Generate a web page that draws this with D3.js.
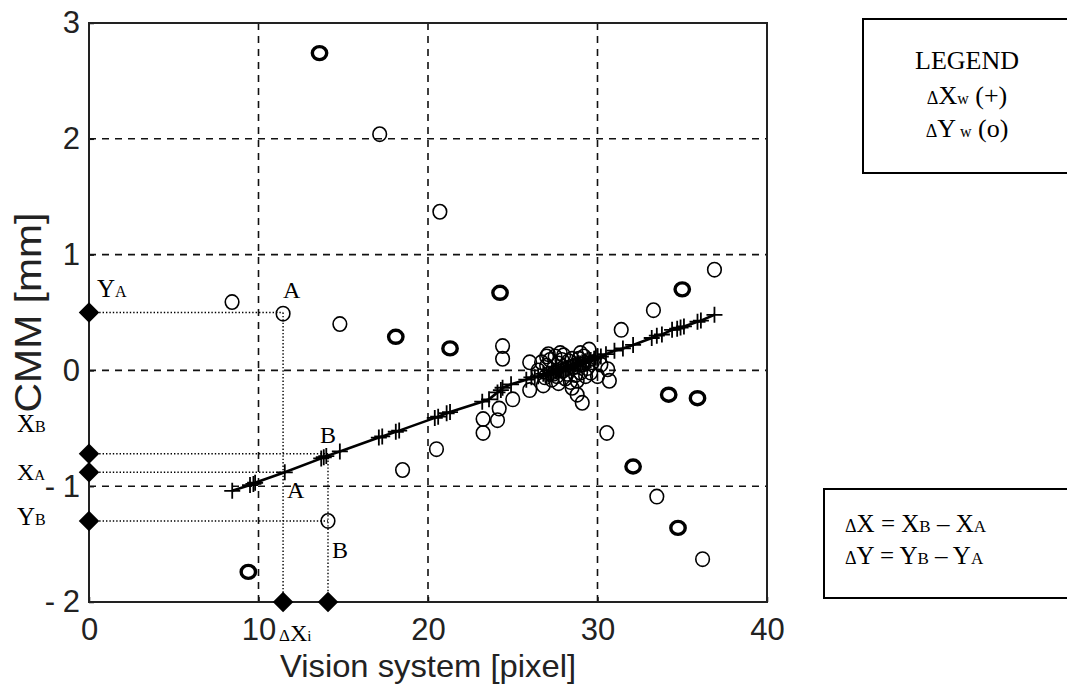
<!DOCTYPE html>
<html>
<head>
<meta charset="utf-8">
<script src="https://cdn.jsdelivr.net/npm/d3@7"></script>
<style>
  body { margin: 0; background: #fff; }
  svg { display: block; }
</style>
</head>
<body>
<svg id="chart" width="1067" height="684"></svg>
<script>

// *** Data ***

var xTicks = [0, 10, 20, 30, 40];
var yTicks = [-2, -1, 0, 1, 2, 3];

// delta Xw (+), lies on the fitted line
var plusX = [8.45, 9.5, 9.7, 9.8, 11.55, 13.7, 13.85, 14.0, 14.8, 17.1, 17.3, 18.1, 18.3, 20.4, 20.6, 21.1, 21.3,
             23.2, 23.6, 24.1, 24.3, 24.4, 24.9, 25.8, 26.1, 26.3, 26.5, 26.8, 27.0, 27.1, 27.2, 27.3, 27.4, 27.5,
             27.6, 27.7, 27.8, 27.9, 28.0, 28.1, 28.2, 28.3, 28.4, 28.5, 28.6, 28.7, 28.8, 28.9, 29.0, 29.1, 29.2,
             29.3, 29.5, 29.6, 29.8, 29.9, 30.0, 30.2, 30.5, 31.0, 31.5, 32.1, 33.2, 33.5, 33.8, 34.4, 34.7, 34.9,
             35.1, 35.9, 36.1, 36.9];
var plusY = [-1.04, -0.99, -0.98, -0.97, -0.88, -0.76, -0.75, -0.74, -0.70, -0.58, -0.57, -0.53, -0.52, -0.41, -0.40, -0.37, -0.36,
             -0.27, -0.25, -0.19, -0.17, -0.15, -0.12, -0.08, -0.06, -0.06, -0.05, -0.03, -0.04, -0.03, -0.03, -0.02, -0.02, -0.01,
             -0.01, 0.00, 0.00, 0.01, 0.01, 0.02, 0.02, 0.03, 0.03, 0.04, 0.04, 0.05, 0.05, 0.06, 0.06, 0.07, 0.07,
             0.08, 0.09, 0.09, 0.10, 0.11, 0.12, 0.12, 0.14, 0.17, 0.19, 0.22, 0.28, 0.30, 0.31, 0.35, 0.36, 0.37,
             0.38, 0.42, 0.43, 0.48];

// delta Yw (o)
var circleX = [17.15, 20.7, 8.44, 11.45, 14.8, 24.4, 24.4, 36.9, 33.3, 31.4, 30.55, 23.25, 23.25, 24.1, 25.0, 26.0,
               26.8, 26.0, 27.1, 28.5, 28.8, 29.1, 29.3, 30.7, 30.6, 29.5, 33.5, 36.2, 20.5, 18.5, 14.1, 27.0,
               27.4, 27.7, 28.0, 28.3, 28.1, 27.5, 28.6, 28.9, 29.0, 27.3, 28.4, 29.2, 27.8, 24.2,
               26.5, 26.9, 27.2, 27.6, 27.9, 28.2, 28.5, 28.7, 29.1, 29.4, 29.7, 27.0, 28.0, 29.0, 26.7, 28.8,
               27.7, 29.6, 30.2, 30.0];
var circleY = [2.04, 1.37, 0.59, 0.49, 0.40, 0.21, 0.10, 0.87, 0.52, 0.35, -0.54, -0.42, -0.54, -0.43, -0.25, -0.17,
               -0.13, 0.07, 0.14, -0.15, -0.21, -0.28, -0.05, -0.09, 0.01, 0.18, -1.09, -1.63, -0.68, -0.86, -1.30, 0.04,
               -0.03, 0.06, 0.00, 0.08, -0.07, 0.12, 0.03, 0.10, -0.02, -0.08, -0.10, 0.12, 0.15, -0.33,
               0.00, -0.06, 0.09, -0.05, 0.09, -0.03, 0.10, -0.04, 0.05, 0.02, 0.07, 0.12, 0.13, 0.15, 0.07, -0.09,
               -0.11, -0.02, 0.05, -0.05];
// repeated (bold) circles
var boldX = [13.6, 18.1, 21.3, 24.25, 35.0, 34.2, 35.9, 32.1, 34.75, 9.4];
var boldY = [2.74, 0.29, 0.19, 0.67, 0.70, -0.21, -0.24, -0.83, -1.36, -1.74];

// construction of points A and B
var axisMarkY = [0.5, -0.72, -0.88, -1.3];      // YA, XB, XA, YB
var axisMarkX = [11.45, 14.1];                  // A, B on the x axis
var pointA = {x: 11.45, yw: 0.5, xw: -0.88};
var pointB = {x: 14.1, yw: -1.3, xw: -0.72};

// *** Chart setup ***

var svg = d3.select("#chart");
var serif = "'Liberation Serif', 'Times New Roman', serif";
var sans = "'Liberation Sans', Arial, Helvetica, sans-serif";

var x = d3.scaleLinear().domain([0, 40]).range([89, 767]);
var y = d3.scaleLinear().domain([-2, 3]).range([602, 23]);

var plusData = plusX.map((v, i) => ({x: v, y: plusY[i]}));
var circleData = circleX.map((v, i) => ({x: v, y: circleY[i]}));
var boldData = boldX.map((v, i) => ({x: v, y: boldY[i]}));

// grid
var grid = svg.append("g")
    .attr("stroke", "#111")
    .attr("stroke-width", 1.6)
    .attr("stroke-dasharray", "7,6");

grid.selectAll(".vgrid").data(xTicks.slice(1, -1)).enter().append("line")
    .attr("x1", d => x(d)).attr("x2", d => x(d))
    .attr("y1", y(3)).attr("y2", y(-2));

grid.selectAll(".hgrid").data(yTicks.slice(1, -1)).enter().append("line")
    .attr("x1", x(0)).attr("x2", x(40))
    .attr("y1", d => y(d)).attr("y2", d => y(d));

// axes (small inward ticks + labels)
var xAxisG = svg.append("g")
    .attr("transform", "translate(0," + y(-2) + ")")
    .call(d3.axisBottom(x).tickValues(xTicks).tickSize(-5).tickPadding(16));

var yAxisG = svg.append("g")
    .attr("transform", "translate(" + x(0) + ",0)")
    .call(d3.axisLeft(y).tickValues(yTicks).tickSize(-5).tickPadding(9)
        .tickFormat(d => d < 0 ? "-\u2005" + (-d) : "" + d));

[xAxisG, yAxisG].forEach(function (g) {
    g.select(".domain").remove();
    g.selectAll(".tick line").attr("stroke", "#111").attr("stroke-width", 1.5);
    g.selectAll(".tick text")
        .attr("font-family", sans)
        .attr("font-size", 31)
        .attr("fill", "#222");
});

// frame
svg.append("rect")
    .attr("x", x(0)).attr("y", y(3))
    .attr("width", x(40) - x(0)).attr("height", y(-2) - y(3))
    .attr("fill", "none")
    .attr("stroke", "#222")
    .attr("stroke-width", 2);

// axis titles
svg.append("text")
    .attr("x", (x(0) + x(40)) / 2)
    .attr("y", 677)
    .attr("text-anchor", "middle")
    .attr("font-family", sans)
    .attr("font-size", 32)
    .attr("textLength", 296)
    .attr("lengthAdjust", "spacingAndGlyphs")
    .attr("fill", "#222")
    .text("Vision system [pixel]");

svg.append("text")
    .attr("transform", "translate(41," + (y(3) + y(-2)) / 2 + ") rotate(-90)")
    .attr("text-anchor", "middle")
    .attr("font-family", sans)
    .attr("font-size", 37)
    .attr("textLength", 200)
    .attr("lengthAdjust", "spacingAndGlyphs")
    .attr("fill", "#222")
    .text("CMM [mm]");

// *** Construction lines for A and B ***

var dotted = svg.append("g")
    .attr("stroke", "#000")
    .attr("stroke-width", 1.4)
    .attr("stroke-dasharray", "1.4,2");

var guideLines = [
    [0, pointA.yw, pointA.x, pointA.yw],
    [0, pointA.xw, pointA.x, pointA.xw],
    [0, pointB.xw, pointB.x, pointB.xw],
    [0, pointB.yw, pointB.x, pointB.yw],
    [pointA.x, pointA.yw, pointA.x, -2],
    [pointB.x, pointB.xw, pointB.x, -2]
];
dotted.selectAll("line").data(guideLines).enter().append("line")
    .attr("x1", d => x(d[0])).attr("y1", d => y(d[1]))
    .attr("x2", d => x(d[2])).attr("y2", d => y(d[3]));

// *** Data marks ***

var fitLine = d3.line().x(d => x(d.x)).y(d => y(d.y));
svg.append("path")
    .datum(plusData.slice().sort((a, b) => a.x - b.x))
    .attr("fill", "none")
    .attr("stroke", "#000")
    .attr("stroke-width", 2.6)
    .attr("d", fitLine);

svg.append("g").selectAll("path").data(plusData).enter().append("path")
    .attr("transform", d => "translate(" + x(d.x) + "," + y(d.y) + ")")
    .attr("d", "M-8,0H8M0,-8V8")
    .attr("stroke", "#000")
    .attr("stroke-width", 1.8);

svg.append("g").selectAll("ellipse").data(circleData).enter().append("ellipse")
    .attr("cx", d => x(d.x)).attr("cy", d => y(d.y))
    .attr("rx", 6.8).attr("ry", 7.2)
    .attr("fill", "none")
    .attr("stroke", "#000")
    .attr("stroke-width", 1.6);

svg.append("g").selectAll("ellipse").data(boldData).enter().append("ellipse")
    .attr("cx", d => x(d.x)).attr("cy", d => y(d.y))
    .attr("rx", 7.2).attr("ry", 6.5)
    .attr("fill", "none")
    .attr("stroke", "#000")
    .attr("stroke-width", 3.4);

// diamonds on the axes
var diamond = d3.symbol(d3.symbolSquare, 210);
svg.append("g").selectAll("path").data(axisMarkY).enter().append("path")
    .attr("transform", d => "translate(" + x(0) + "," + y(d) + ") rotate(45)")
    .attr("d", diamond);
svg.append("g").selectAll("path").data(axisMarkX).enter().append("path")
    .attr("transform", d => "translate(" + x(d) + "," + y(-2) + ") rotate(45)")
    .attr("d", diamond);

// *** Annotation text ***

function richText(parent, px, py, parts, anchor) {
    var t = parent.append("text")
        .attr("x", px).attr("y", py)
        .attr("text-anchor", anchor || "start")
        .attr("font-family", serif)
        .attr("fill", "#000");
    parts.forEach(function (p) {
        t.append("tspan").attr("font-size", p[1]).text(p[0]);
    });
    return t;
}

var big = 25, small = 16;
richText(svg, 97, 297, [["Y", big], ["A", small]]);
richText(svg, 17, 432, [["X", big], ["B", small]]);
richText(svg, 17, 480, [["X", 24], ["A", 15]]);
richText(svg, 17, 525, [["Y", big], ["B", small]]);
richText(svg, 283, 298, [["A", 24]]);
richText(svg, 320, 443, [["B", 24]]);
richText(svg, 287, 498, [["A", 24]]);
richText(svg, 332, 558, [["B", 24]]);
richText(svg, 279, 641, [["\u0394", 17], ["X", 24], ["i", 15]]);

// legend box
svg.append("rect")
    .attr("x", 863).attr("y", 19)
    .attr("width", 220).attr("height", 154)
    .attr("fill", "none").attr("stroke", "#000").attr("stroke-width", 2);

richText(svg, 967, 69, [["LEGEND", 26]], "middle");
richText(svg, 967, 104, [["\u0394", 18], ["X", 26], ["w", 16], [" (+)", 26]], "middle");
richText(svg, 967, 137, [["\u0394", 18], ["Y", 26], [" w", 16], [" (o)", 26]], "middle");

// difference box
svg.append("rect")
    .attr("x", 824).attr("y", 489)
    .attr("width", 260).attr("height", 109)
    .attr("fill", "none").attr("stroke", "#000").attr("stroke-width", 2);

richText(svg, 845, 532, [["\u0394", 18], ["X = X", 25], ["B", 17], [" \u2013 X", 25], ["A", 17]]);
richText(svg, 845, 564, [["\u0394", 18], ["Y = Y", 25], ["B", 17], [" \u2013 Y", 25], ["A", 17]]);

</script>
</body>
</html>
